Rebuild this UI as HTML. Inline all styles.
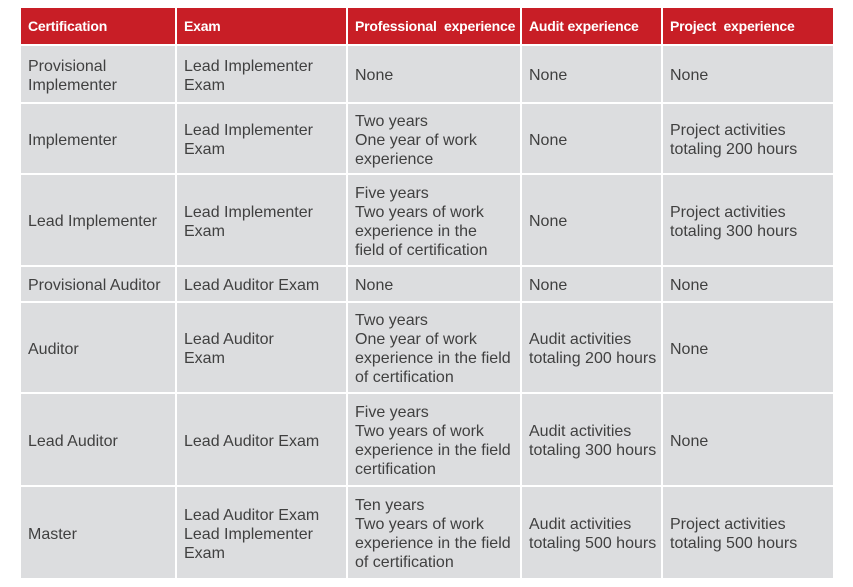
<!DOCTYPE html><html><head><style>
body{margin:0;background:#fff;width:853px;height:587px;position:relative;font-family:"Liberation Sans",sans-serif;}
.c{position:absolute;background:#dcdddf;color:#404040;font-size:16px;line-height:19px;display:flex;align-items:center;padding-left:7px;padding-top:3px;box-sizing:border-box;}
.h{background:#c81e26;color:#fff;font-weight:bold;font-size:14px;white-space:nowrap;letter-spacing:-0.2px;padding-top:1px;}
</style></head><body>
<div id="t"></div>
<script>
var cols=[21,176,347,521,662,833];
var rows=[8,45,103,174,266,302,393,486,578];
var data=[
["Certification","Exam","Professional&nbsp; experience","Audit experience","Project&nbsp; experience"],
["Provisional<br>Implementer","Lead Implementer<br>Exam","None","None","None"],
["Implementer","Lead Implementer<br>Exam","Two years<br>One year of work<br>experience","None","Project activities<br>totaling 200 hours"],
["Lead Implementer","Lead Implementer<br>Exam","Five years<br>Two years of work<br>experience in the<br>field of certification","None","Project activities<br>totaling 300 hours"],
["Provisional Auditor","Lead Auditor Exam","None","None","None"],
["Auditor","Lead Auditor<br>Exam","Two years<br>One year of work<br>experience in the field<br>of certification","Audit activities<br>totaling 200 hours","None"],
["Lead Auditor","Lead Auditor Exam","Five years<br>Two years of work<br>experience in the field<br>certification","Audit activities<br>totaling 300 hours","None"],
["Master","Lead Auditor Exam<br>Lead Implementer<br>Exam","Ten years<br>Two years of work<br>experience in the field<br>of certification","Audit activities<br>totaling 500 hours","Project activities<br>totaling 500 hours"]];
var h="";
for(var r=0;r<8;r++)for(var c=0;c<5;c++){
var x=cols[c]+(c?1:0),w=cols[c+1]-x-(c<4?1:0),y=rows[r]+(r?1:0),hh=rows[r+1]-y-(r<7?1:0);
h+='<div class="c'+(r?'':' h')+'" style="left:'+x+'px;top:'+y+'px;width:'+w+'px;height:'+hh+'px">'+data[r][c]+'</div>';}
document.getElementById("t").innerHTML=h;
</script>
</body></html>
